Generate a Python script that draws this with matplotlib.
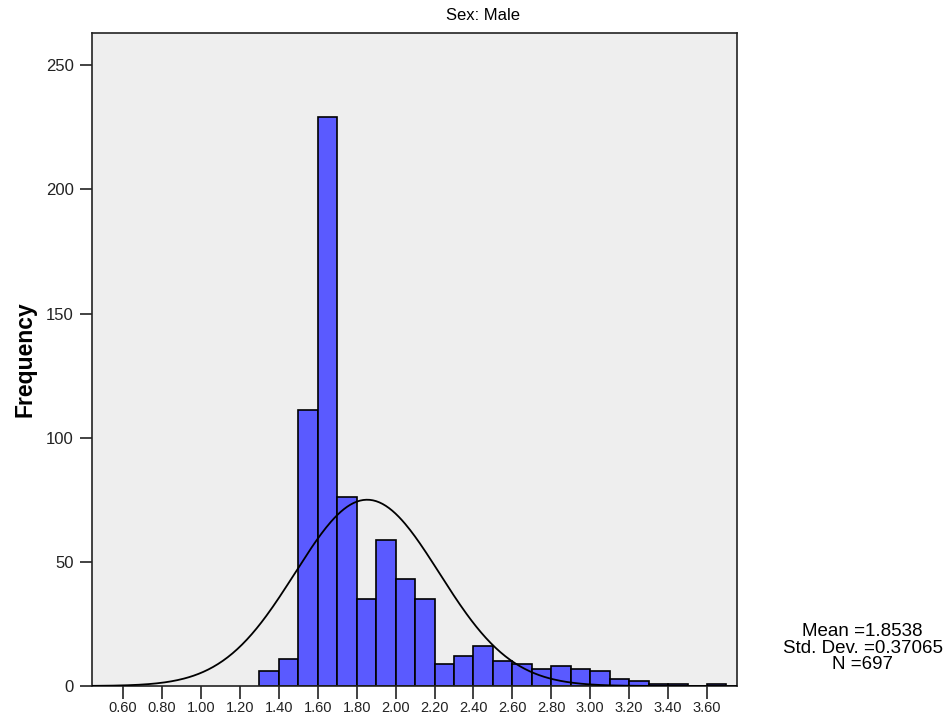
import numpy as np
import matplotlib.pyplot as plt

plt.rcParams['font.family'] = ['Liberation Sans', 'DejaVu Sans']

# bin edges start at 1.30, width 0.10
bin_left = [1.3, 1.4, 1.5, 1.6, 1.7, 1.8, 1.9, 2.0, 2.1, 2.2, 2.3, 2.4,
            2.5, 2.6, 2.7, 2.8, 2.9, 3.0, 3.1, 3.2, 3.3, 3.4, 3.5, 3.6]
counts = [6, 11, 111, 229, 76, 35, 59, 43, 35, 9, 12, 16,
          10, 9, 7, 8, 7, 6, 3, 2, 1, 1, 0, 1]
bin_width = 0.1
x_ticks = [0.6, 0.8, 1.0, 1.2, 1.4, 1.6, 1.8, 2.0, 2.2, 2.4, 2.6, 2.8, 3.0, 3.2, 3.4, 3.6]
y_ticks = [0, 50, 100, 150, 200, 250]

mean = 1.8538
std = 0.37065
n = 697

fig = plt.figure(figsize=(9.5, 7.25), dpi=100)
ax = fig.add_axes([0.0968, 0.0538, 0.679, 0.9007])
ax.set_facecolor('#eeeeee')

ax.bar(bin_left, counts, width=bin_width, align='edge', color='#5a5aff',
       edgecolor='black', linewidth=1.2, zorder=2)

# normal curve
xs = np.linspace(0.44, 3.75, 400)
ys = n * bin_width / (std * np.sqrt(2 * np.pi)) * np.exp(-0.5 * ((xs - mean) / std) ** 2)
ax.plot(xs, ys, color='black', linewidth=1.3, zorder=3)

ax.set_xlim(0.44, 3.754)
ax.set_ylim(0, 263)
ax.set_xticks(x_ticks)
ax.set_xticklabels([f'{t:.2f}' for t in x_ticks], fontsize=10.5)
ax.set_yticks(y_ticks)
ax.set_yticklabels([str(t) for t in y_ticks], fontsize=12)
ax.tick_params(direction='out', length=9, width=1.2, pad=4, colors='#222222')
ax.tick_params(axis='x', pad=2)

for s in ax.spines.values():
    s.set_linewidth(1.2)
    s.set_color('#222222')

ax.set_ylabel('Frequency', fontsize=16.5, fontweight='bold', labelpad=7)

# panel title sits centred on the whole figure, as in SPSS output
fig.text(0.508, 0.979, 'Sex: Male', ha='center', va='center', fontsize=12)

fig.text(0.908, 0.106, f'Mean ={mean}\nStd. Dev. ={std}\nN ={n}',
         ha='center', va='center', fontsize=13.5, linespacing=0.97)

plt.savefig('out.png')
